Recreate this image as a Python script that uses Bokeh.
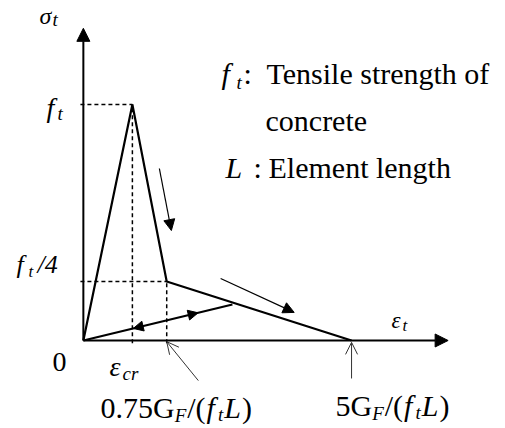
from bokeh.plotting import figure
from bokeh.models import Range1d, Arrow, NormalHead, OpenHead, ColumnDataSource
from bokeh.core.properties import value
from bokeh.embed import file_html
from bokeh.resources import INLINE

# Tension-softening law for concrete.
# Strain is expressed in units of eps_cr, stress in units of f_t.
strain = [0.0, 1.0, 1.7, 5.47]      # 0, eps_cr, 0.75G_F/(f_t L), 5G_F/(f_t L)
stress = [0.0, 1.0, 0.25, 0.0]      # 0, f_t, f_t/4, 0
unload_strain = [0.0, 3.04]         # unloading / reloading branch
unload_stress = [0.0, 0.1525]
axis_x_end = 7.44
axis_y_end = 1.323

W, H = 505, 428
X0, X1 = -1.69, 8.61
Y0, Y1 = -0.373, 1.441
FONT = "Liberation Serif"

p = figure(width=W, height=H, x_range=Range1d(X0, X1), y_range=Range1d(Y0, Y1),
           x_axis_type=None, y_axis_type=None, output_backend="svg", toolbar_location=None,
           min_border=0, background_fill_color="white", border_fill_color="white")
p.outline_line_color = None
p.grid.visible = False


def head(size):
    return NormalHead(size=size, fill_color="black", line_color="black", line_width=1)


# coordinate axes with arrow heads
p.add_layout(Arrow(end=head(13), x_start=0, y_start=0, x_end=axis_x_end, y_end=0,
                   line_width=2, line_color="black"))
p.add_layout(Arrow(end=head(13), x_start=0, y_start=0, x_end=0, y_end=axis_y_end,
                   line_width=2, line_color="black"))

# guide lines to the characteristic points
p.segment(x0=[-0.06, strain[1], -0.06, strain[2]],
          y0=[stress[1], -0.012, stress[2], -0.012],
          x1=[strain[1], strain[1], strain[2], strain[2]],
          y1=[stress[1], stress[1], stress[2], stress[2]],
          line_color="black", line_width=1.5, line_dash="4 3")

# softening curve
p.line(strain, stress, line_color="black", line_width=2.2)

# unloading / reloading branch with heads in both directions
p.line(unload_strain, unload_stress, line_color="black", line_width=2.2)
ux, uy = unload_strain[1], unload_stress[1]
for f0, f1 in [(0.70, 0.77), (0.40, 0.335)]:
    p.add_layout(Arrow(end=head(10), x_start=ux * f0, y_start=uy * f0,
                       x_end=ux * f1, y_end=uy * f1, line_width=0, line_alpha=0))

# direction-of-loading arrows beside the softening branches
p.add_layout(Arrow(end=head(11), x_start=1.55, y_start=0.729, x_end=1.795, y_end=0.466,
                   line_width=1.2, line_color="black"))
p.add_layout(Arrow(end=head(11), x_start=2.80, y_start=0.263, x_end=4.30, y_end=0.119,
                   line_width=1.2, line_color="black"))

# pointers from the strain labels to the axis
thin = dict(line_width=1, line_color="#333333")
p.add_layout(Arrow(end=OpenHead(size=12, line_width=1, line_color="#333333"),
                   x_start=2.345, y_start=-0.17, x_end=strain[2], y_end=-0.005, **thin))
p.add_layout(Arrow(end=OpenHead(size=12, line_width=1, line_color="#333333"),
                   x_start=strain[3], y_start=-0.161, x_end=strain[3], y_end=-0.008, **thin))

# ---- text pieces (positioned in canvas pixels, converted to data units) ----
labels = dict(x=[], y=[], text=[], size=[], style=[])
RAISE = 0.33   # baseline correction, as a fraction of the font size


def px2x(px):
    return X0 + px * (X1 - X0) / W


def py2y(py):
    return Y1 - py * (Y1 - Y0) / H


def txt(px, py, s, size, italic=False):
    labels["x"].append(px2x(px))
    labels["y"].append(py2y(py - RAISE * size))
    labels["text"].append(s)
    labels["size"].append(f"{size}px")
    labels["style"].append("italic" if italic else "normal")


ADV_R = {'0': .5, '5': .5, '7': .5, '.': .25, 'G': .722, '/': .278, '(': .333, ')': .333}
ADV_I = {'f': .278, 't': .278, 'L': .556, 'F': .611}


def run(px, base, pieces):
    for s, size, italic, dy, pad in pieces:
        txt(px, base + dy, s, size, italic)
        table = ADV_I if italic else ADV_R
        px += sum(table[c] for c in s) * size + pad


# axis titles
txt(39, 23, "σ", 24, True)
txt(52, 25, "t", 19, True)
txt(391, 328, "ε", 23, True)
txt(402, 331, "t", 17, True)

# stress levels
txt(46, 116, "f", 28, True)
txt(57, 119, "t", 19, True)
txt(16, 273, "f", 26, True)
txt(28, 277, "t", 17, True)
txt(37, 273, "/4", 26, True)

# strain marks
txt(52, 371, "0", 28)
txt(109, 375, "ε", 28, True)
txt(122, 379, "cr", 19, True)

fraction = [("F", 19, True, 4, 1), ("/(", 30, False, 0, 1), ("f", 30, True, 0, 3),
            ("t", 19, True, 3, 1), ("L", 30, True, 0, 1), (")", 30, False, 0, 0)]
run(100, 417, [("0.75G", 30, False, 0, 0)] + fraction)
run(335, 415, [("5G", 30, False, 0, 0)] + fraction)

# notation
txt(221, 83, "f", 30, True)
txt(236, 88, "t", 19, True)
txt(243, 83, ":", 30)
txt(266, 83, "Tensile strength of", 30)
txt(265, 130, "concrete", 30)
txt(225, 177, "L", 30, True)
txt(253, 177, ":", 30)
txt(268, 177, "Element length", 30)

p.text(x="x", y="y", text="text", source=ColumnDataSource(labels),
       text_font=value(FONT), text_font_size="size", text_font_style="style",
       text_baseline="alphabetic", text_align="left", text_color="black")

open("out.html", "w").write(file_html(p, INLINE))
